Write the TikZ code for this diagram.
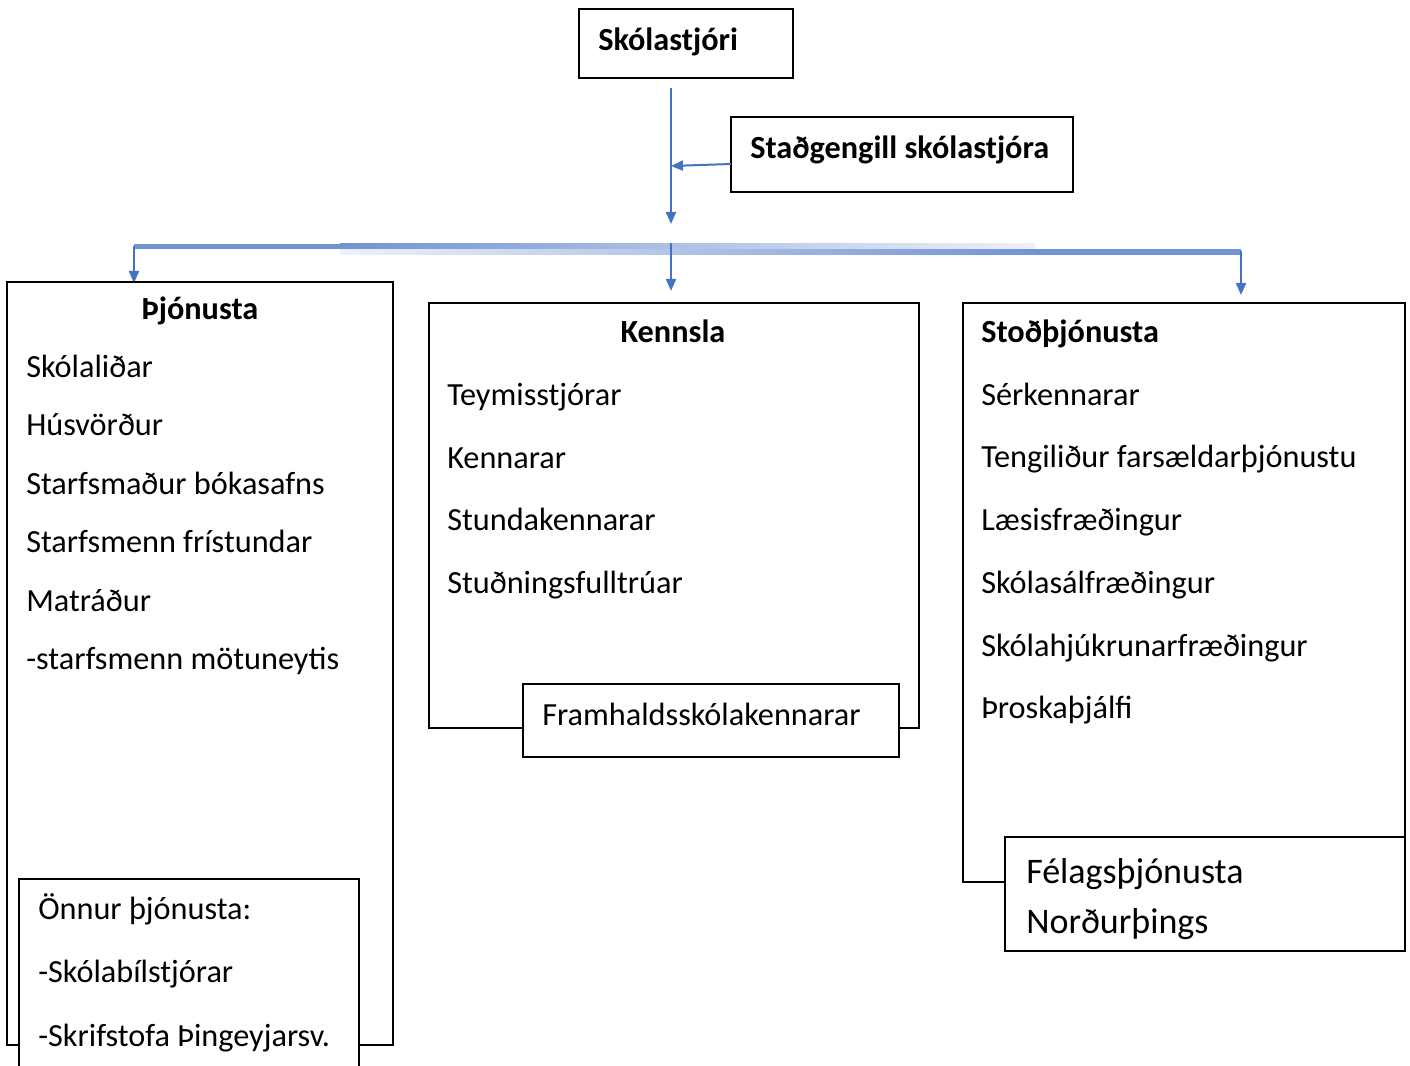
\documentclass[tikz,border=0pt]{standalone}
\usepackage{fontspec}
\setmainfont{Carlito}
\usetikzlibrary{arrows.meta}
\definecolor{lineblue}{HTML}{4472C4}
\definecolor{barblue}{HTML}{7094D3}
\definecolor{barlight}{HTML}{EEF1FA}
\tikzset{
  box/.style={draw=black, line width=1.2pt, fill=white},
  txt/.style={anchor=west, inner sep=0pt, yshift=-5.5pt, font=\fontsize{24.2}{27}\selectfont, text height=0.7em, text depth=0.22em},
  ttl/.style={txt, font=\fontsize{24.2}{27}\selectfont\bfseries},
  big/.style={txt, font=\fontsize{27}{30}\selectfont},
  conn/.style={draw=lineblue, line width=1.5pt},
  arr/.style={conn, -{Triangle[width=7.5pt,length=9pt]}},
}
\begin{document}
\begin{tikzpicture}[x=0.75pt,y=-0.75pt]
\useasboundingbox (0,0) rectangle (1410,1066);
\clip (0,0) rectangle (1410,1066);
% top boxes
\draw[box] (579,9) rectangle (793,78);
\node[ttl] (sk) at (598,40) {Skólastjóri};
\draw[box] (731,117) rectangle (1073,192);
\node[ttl] (st) at (750,148) {Staðgengill skólastjóra};
\coordinate (stl) at (731,164);
\coordinate (vtop) at (671,88);
\coordinate (vbot) at (671,224);
\coordinate (vjoin) at (671,166);
\draw[arr] (vtop) -- (vbot);
\draw[arr] (stl) -- (vjoin);
% gradient bar
\fill[barblue] (134,244) rectangle (340,249.5);
\shade[left color=barblue, right color=barlight] (340,244) rectangle (1035,249.5);
\shade[left color=barlight, right color=barblue] (340,249.5) rectangle (1035,255);
\fill[barblue] (1035,249.5) rectangle (1241,255);
\coordinate (b1) at (134,246);
\coordinate (b1e) at (134,283);
\coordinate (b2) at (671,243);
\coordinate (b2e) at (671,291);
\coordinate (b3) at (1241,251);
\coordinate (b3e) at (1241,295);
\draw[arr] (b1) -- (b1e);
\draw[arr] (b2) -- (b2e);
\draw[arr] (b3) -- (b3e);
% Þjónusta
\draw[box] (7,282) rectangle (393,1045);
\node[ttl, anchor=center] (tj) at (200,309) {Þjónusta};
\node[txt] (j1) at (26,367) {Skólaliðar};
\node[txt] (j2) at (26,425) {Húsvörður};
\node[txt] (j3) at (26,484) {Starfsmaður bókasafns};
\node[txt] (j4) at (26,542) {Starfsmenn frístundar};
\node[txt] (j5) at (26,601) {Matráður};
\node[txt] (j6) at (26,659) {-starfsmenn mötuneytis};
\draw[box] (19,879) rectangle (359,1080);
\node[txt] (o1) at (38,909) {Önnur þjónusta:};
\node[txt] (o2) at (38,972) {-Skólabílstjórar};
\node[txt] (o3) at (38,1036) {-Skrifstofa Þingeyjarsv.};
% Kennsla
\draw[box] (429,303) rectangle (919,728);
\node[ttl, anchor=center] (tk) at (673,332) {Kennsla};
\node[txt] (k1) at (447,395) {Teymisstjórar};
\node[txt] (k2) at (447,458) {Kennarar};
\node[txt] (k3) at (447,520) {Stundakennarar};
\node[txt] (k4) at (447,583) {Stuðningsfulltrúar};
\draw[box] (523,684) rectangle (899,757);
\node[txt] (fr) at (542,715) {Framhaldsskólakennarar};
% Stoðþjónusta
\draw[box] (963,303) rectangle (1405,882);
\node[ttl] (ts) at (981,332) {Stoðþjónusta};
\node[txt] (s1) at (981,395) {Sérkennarar};
\node[txt] (s2) at (981,457) {Tengiliður farsældarþjónustu};
\node[txt] (s3) at (981,520) {Læsisfræðingur};
\node[txt] (s4) at (981,583) {Skólasálfræðingur};
\node[txt] (s5) at (981,646) {Skólahjúkrunarfræðingur};
\node[txt] (s6) at (981,708) {Þroskaþjálfi};
\draw[box] (1005,837) rectangle (1405,951);
\node[big] (fe1) at (1026,873) {Félagsþjónusta};
\node[big] (fe2) at (1026,923) {Norðurþings};
\end{tikzpicture}
\end{document}
